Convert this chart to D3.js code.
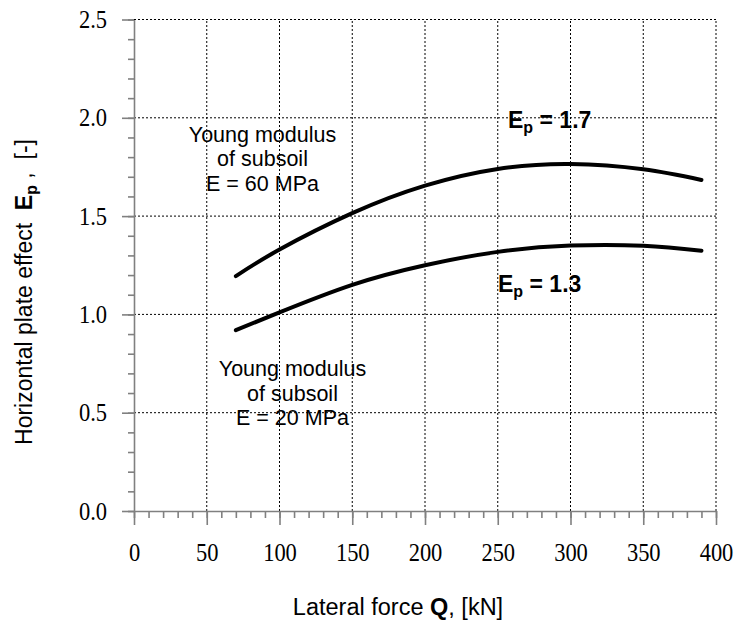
<!DOCTYPE html>
<html>
<head>
<meta charset="utf-8">
<script src="https://cdn.jsdelivr.net/npm/d3@7"></script>
<style>
  body { margin: 0; background: #fff; }
  .tick text { font-family: 'Liberation Serif', 'Times New Roman', serif; font-size: 25px; fill: #000; }
  .axis path, .axis line { stroke: #808080; stroke-width: 1.6px; }
  .grid line { stroke: #000; stroke-width: 1px; stroke-dasharray: 2,2; }
  .label { font-family: 'Liberation Sans', Arial, sans-serif; fill: #000; white-space: pre; }
</style>
</head>
<body>
<div id="chart"></div>
<script>
// lateral force Q [kN] at the read-off points
const forceQ = [70, 100, 150, 200, 250, 300, 350, 390];
// horizontal plate effect Ep for both subsoils
const effect60 = [1.195, 1.33, 1.515, 1.655, 1.74, 1.765, 1.738, 1.684];
const effect20 = [0.92, 1.01, 1.15, 1.25, 1.318, 1.35, 1.349, 1.324];

const xTicks = [0, 50, 100, 150, 200, 250, 300, 350, 400];
const yTicks = [0, 0.5, 1.0, 1.5, 2.0, 2.5];

const notes60 = ['Young modulus', 'of subsoil', 'E = 60 MPa'];
const notes20 = ['Young modulus', 'of subsoil', 'E = 20 MPa'];
const curveLabels = ['1.7', '1.3'];

const width = 736;
const height = 620;

const x = d3.scaleLinear().domain([0, 400]).range([134, 716]);
const y = d3.scaleLinear().domain([0, 2.5]).range([511, 19.5]);

const svg = d3
  .select('#chart')
  .append('svg')
  .attr('width', width)
  .attr('height', height);

// dotted grid
const grid = svg.append('g').attr('class', 'grid');
grid
  .selectAll('line.v')
  .data(xTicks.slice(1))
  .join('line')
  .attr('class', 'v')
  .attr('x1', d => x(d))
  .attr('x2', d => x(d))
  .attr('y1', y(0))
  .attr('y2', y(2.5));
grid
  .selectAll('line.h')
  .data(yTicks.slice(1))
  .join('line')
  .attr('class', 'h')
  .attr('x1', x(0))
  .attr('x2', x(400))
  .attr('y1', d => y(d))
  .attr('y2', d => y(d));

// minor ticks first, majors with labels on top
svg
  .append('g')
  .attr('class', 'axis')
  .attr('transform', `translate(0, ${y(0)})`)
  .call(d3.axisBottom(x).tickValues(d3.range(0, 401, 10)).tickSize(7).tickFormat(''))
  .call(g => g.select('.domain').remove());

svg
  .append('g')
  .attr('class', 'axis')
  .attr('transform', `translate(${x(0)}, 0)`)
  .call(d3.axisLeft(y).tickValues(d3.range(0, 26).map(i => i / 10)).tickSize(6).tickFormat(''))
  .call(g => g.select('.domain').remove());

const xAxis = svg
  .append('g')
  .attr('class', 'axis')
  .attr('transform', `translate(0, ${y(0)})`)
  .call(
    d3
      .axisBottom(x)
      .tickValues(xTicks)
      .tickSize(14)
      .tickSizeOuter(0)
      .tickPadding(18)
      .tickFormat(d => d.toString())
  );
xAxis.selectAll('.tick text').attr('transform', 'scale(0.9, 1)');

const yAxis = svg
  .append('g')
  .attr('class', 'axis')
  .attr('transform', `translate(${x(0)}, 0)`)
  .call(
    d3
      .axisLeft(y)
      .tickValues(yTicks)
      .tickSize(12)
      .tickSizeOuter(0)
      .tickPadding(18)
      .tickFormat(d3.format('.1f'))
  );
yAxis.selectAll('.tick text').attr('transform', 'scale(0.9, 1)');

// curves
const line = d3
  .line()
  .x((d, i) => x(forceQ[i]))
  .y(d => y(d))
  .curve(d3.curveNatural);

svg
  .selectAll('path.curve')
  .data([effect60, effect20])
  .join('path')
  .attr('class', 'curve')
  .attr('d', line)
  .attr('fill', 'none')
  .attr('stroke', '#000')
  .attr('stroke-width', 4)
  .attr('stroke-linecap', 'round');

// notes
function note(lines, cx, baseline) {
  svg
    .append('g')
    .selectAll('text')
    .data(lines)
    .join('text')
    .attr('class', 'label')
    .attr('x', cx)
    .attr('y', (d, i) => baseline + i * 24.5)
    .attr('text-anchor', 'middle')
    .style('font-size', '21.5px')
    .text(d => d);
}
note(notes60, 262.5, 141.5);
note(notes20, 292.5, 376);

function epLabel(value, left, baseline) {
  const t = svg
    .append('text')
    .attr('class', 'label')
    .attr('x', left)
    .attr('y', baseline)
    .style('font-size', '23px')
    .style('font-weight', 'bold');
  t.append('tspan').text('E');
  t.append('tspan').attr('dy', 5).style('font-size', '16px').text('p');
  t.append('tspan').attr('dy', -5).text(` = ${value}`);
}
epLabel(curveLabels[0], 508, 128);
epLabel(curveLabels[1], 498, 291.5);

// axis titles
const xTitle = svg
  .append('text')
  .attr('class', 'label')
  .attr('x', 398)
  .attr('y', 615)
  .attr('text-anchor', 'middle')
  .style('font-size', '23.5px');
xTitle.append('tspan').text('Lateral force ');
xTitle.append('tspan').style('font-weight', 'bold').text('Q');
xTitle.append('tspan').text(', [kN]');

const yTitle = svg
  .append('text')
  .attr('class', 'label')
  .attr('transform', 'translate(32, 292) rotate(-90)')
  .attr('text-anchor', 'middle')
  .style('font-size', '23px');
yTitle.append('tspan').text('Horizontal plate effect  ');
yTitle.append('tspan').style('font-weight', 'bold').text('E');
yTitle.append('tspan').attr('dy', 5).style('font-weight', 'bold').style('font-size', '16px').text('p');
yTitle.append('tspan').attr('dy', -5).text(' ,  [-]');
</script>
</body>
</html>
